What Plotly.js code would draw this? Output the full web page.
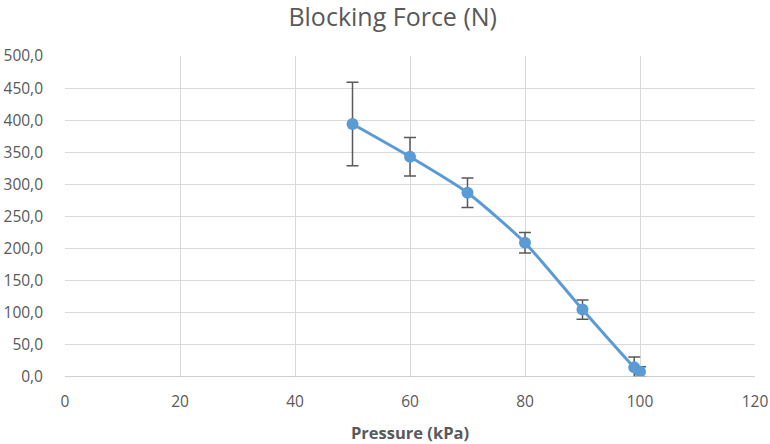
<!DOCTYPE html>
<html><head><meta charset="utf-8">
<script src="https://cdn.plot.ly/plotly-3.0.1.min.js"></script>
<style>html,body{margin:0;padding:0;background:#fff}#c{width:770px;height:444px}</style>
</head><body><div id="c"></div>
<script>
const pressure = [50, 60, 70, 80, 90, 99, 100];
const force = [394, 343, 287, 209, 105, 15, 8];
const forceErr = [65, 30, 23, 16, 15, 16, 8];
const yTicks = [0, 50, 100, 150, 200, 250, 300, 350, 400, 450, 500];
const xTicks = [0, 20, 40, 60, 80, 100, 120];

const trace = {
  x: pressure, y: force, type: 'scatter', mode: 'lines+markers',
  line: {color: '#5B9BD5', width: 3, shape: 'spline', smoothing: 0.6},
  marker: {color: '#5B9BD5', size: 12},
  error_y: {type: 'data', array: forceErr, visible: true, color: '#595959', thickness: 1.5, width: 6}
};
const layout = {
  width: 770, height: 444,
  margin: {l: 65, r: 15, t: 56, b: 67},
  paper_bgcolor: '#fff', plot_bgcolor: '#fff',
  separators: ', ',
  font: {family: 'Open Sans, Liberation Sans, sans-serif', color: '#595959', size: 15},
  title: {text: 'Blocking Force (N)', font: {size: 25, color: '#595959'}, x: 0.51, xanchor: 'center', xref: 'container', y: 0.962, yanchor: 'middle'},
  showlegend: false,
  xaxis: {
    range: [0, 120], tickvals: xTicks, ticktext: xTicks.map(String),
    showgrid: true, gridcolor: '#d9d9d9', gridwidth: 1, zeroline: false,
    showline: false, ticks: '', tickfont: {size: 15.5, color: '#595959'}, ticklabelstandoff: 13,
    title: {text: '<b>Pressure (kPa)</b>', font: {size: 16.5, color: '#595959'}, standoff: 16}
  },
  yaxis: {
    range: [0, 500], tickvals: yTicks, tickformat: '.1f',
    showgrid: true, gridcolor: '#d9d9d9', gridwidth: 1, zeroline: false,
    showline: false, ticks: '', tickfont: {size: 15.5, color: '#595959'}, ticklabelstandoff: 21
  },
  shapes: [{type: 'line', xref: 'paper', yref: 'y', x0: 0, x1: 1, y0: 0, y1: 0, line: {color: '#bfbfbf', width: 1.5}}]
};
Plotly.newPlot('c', [trace], layout, {displayModeBar: false, staticPlot: true});
</script></body></html>
